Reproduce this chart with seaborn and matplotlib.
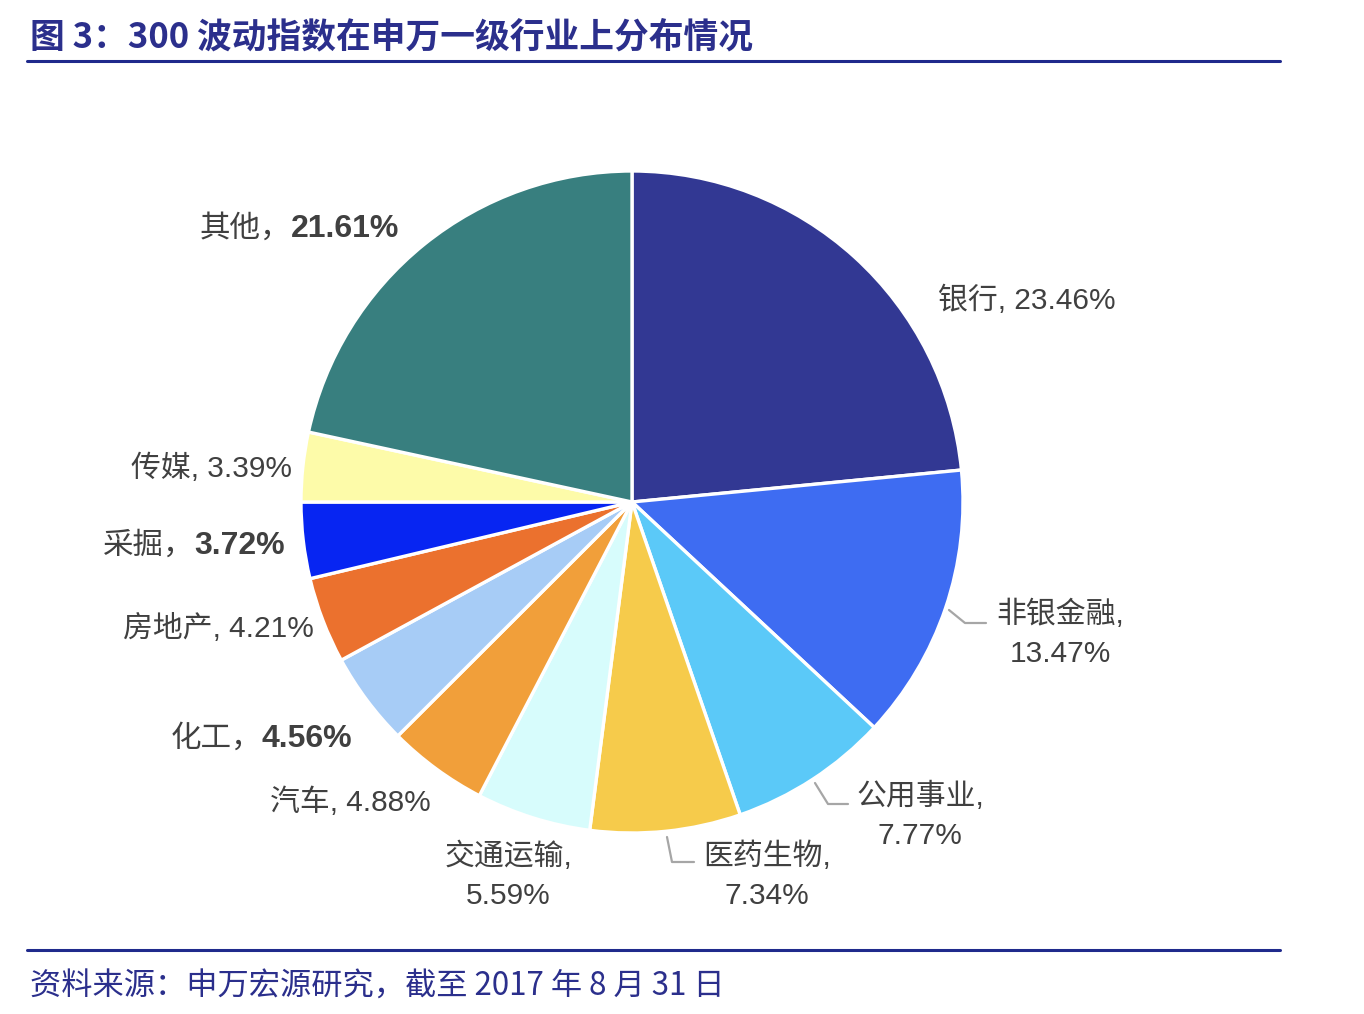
import matplotlib
matplotlib.use("Agg")
import matplotlib.pyplot as plt
import seaborn as sns
from matplotlib import font_manager
from matplotlib.lines import Line2D

# data
sectors = ["银行", "非银金融", "公用事业", "医药生物", "交通运输", "汽车",
           "化工", "房地产", "采掘", "传媒", "其他"]
shares = [23.46, 13.47, 7.77, 7.34, 5.59, 4.88, 4.56, 4.21, 3.72, 3.39, 21.61]
colors = ["#323893", "#3E6CF2", "#5BC9F8", "#F6CB4B", "#D7FCFC", "#F19F3A",
          "#A7CCF6", "#EB712E", "#0725F2", "#FDFBA9", "#387F7F"]
title = "图 3：300 波动指数在申万一级行业上分布情况"
source = "资料来源：申万宏源研究，截至 2017 年 8 月 31 日"

sns.set_theme(style="white")
installed = {f.name for f in font_manager.fontManager.ttflist}
narrow = "Liberation Sans Narrow" if "Liberation Sans Narrow" in installed else "Liberation Sans"
plt.rcParams["font.family"] = [narrow, "Noto Sans CJK SC", "DejaVu Sans"]
NORMAL = [narrow, "Noto Sans CJK SC", "DejaVu Sans"]
WIDE = ["Liberation Sans", "Noto Sans CJK SC", "DejaVu Sans"]
TXT = "#404040"
NAVY = "#2B2F8C"

W, H = 1364, 1014
fig = plt.figure(figsize=(W / 100, H / 100), dpi=100)
fig.patch.set_facecolor("white")

cx, cy, r = 632, 502, 331
ax = fig.add_axes([(cx - r) / W, (H - cy - r) / H, 2 * r / W, 2 * r / H])
ax.pie(shares, colors=colors, startangle=90, counterclock=False,
       wedgeprops=dict(edgecolor="white", linewidth=2.4))
ax.set_xlim(-1, 1)
ax.set_ylim(-1, 1)
ax.set_aspect("equal")
ax.axis("off")


def pd_(px, py):
    return (px - cx) / r, (cy - py) / r


# plain labels: (sector index, text, x, y, ha)
plain = [
    (0, "银行, 23.46%", 938, 300, "left"),
    (1, "非银金融,\n13.47%", 1060, 634, "center"),
    (2, "公用事业,\n7.77%", 920, 816, "center"),
    (3, "医药生物,\n7.34%", 767, 876, "center"),
    (4, "交通运输,\n5.59%", 508, 876, "center"),
    (5, "汽车, 4.88%", 431, 802, "right"),
    (7, "房地产, 4.21%", 314, 628, "right"),
    (9, "传媒, 3.39%", 292, 468, "right"),
]
for i, txt, px, py, ha in plain:
    x, y = pd_(px, py)
    ax.text(x, y, txt, ha=ha, va="center", fontsize=21.5, color=TXT,
            family=NORMAL, linespacing=1.5, clip_on=False)

# emphasised labels: name part then bold percentage
bold = [(10, 291, 229), (8, 194, 546), (6, 262, 739)]
for i, px, py in bold:
    x, y = pd_(px, py)
    ax.text(x, y, sectors[i] + "，", ha="right", va="center", fontsize=22,
            color=TXT, family=WIDE, clip_on=False)
    ax.text(x, y, f"{shares[i]:.2f}%", ha="left", va="center", fontsize=23,
            color=TXT, family=WIDE, fontweight="bold", clip_on=False)

# leader lines
leaders = [
    [(949, 610), (965, 623), (986, 623)],
    [(815, 783), (828, 804), (848, 804)],
    [(667, 837), (672, 862), (694, 862)],
]
for pts in leaders:
    xs = [pd_(p[0], p[1])[0] for p in pts]
    ys = [pd_(p[0], p[1])[1] for p in pts]
    ax.plot(xs, ys, color="#A6A6A6", linewidth=1.6, clip_on=False)

# title, source and rules
fig.text(30 / W, 1 - 37 / H, title, ha="left", va="center", fontsize=25,
         color=NAVY, fontweight="bold", family=["Noto Sans CJK SC", "DejaVu Sans"])
fig.text(30 / W, 1 - 987 / H, source, ha="left", va="center", fontsize=22.5,
         color=NAVY, family=["Noto Sans CJK SC", "DejaVu Sans"])
for yy in (61, 950):
    fig.add_artist(Line2D([27 / W, 1280 / W], [1 - yy / H, 1 - yy / H],
                          color="#1F2A8C", linewidth=2.2))

fig.savefig("out.png", dpi=100, facecolor="white")
